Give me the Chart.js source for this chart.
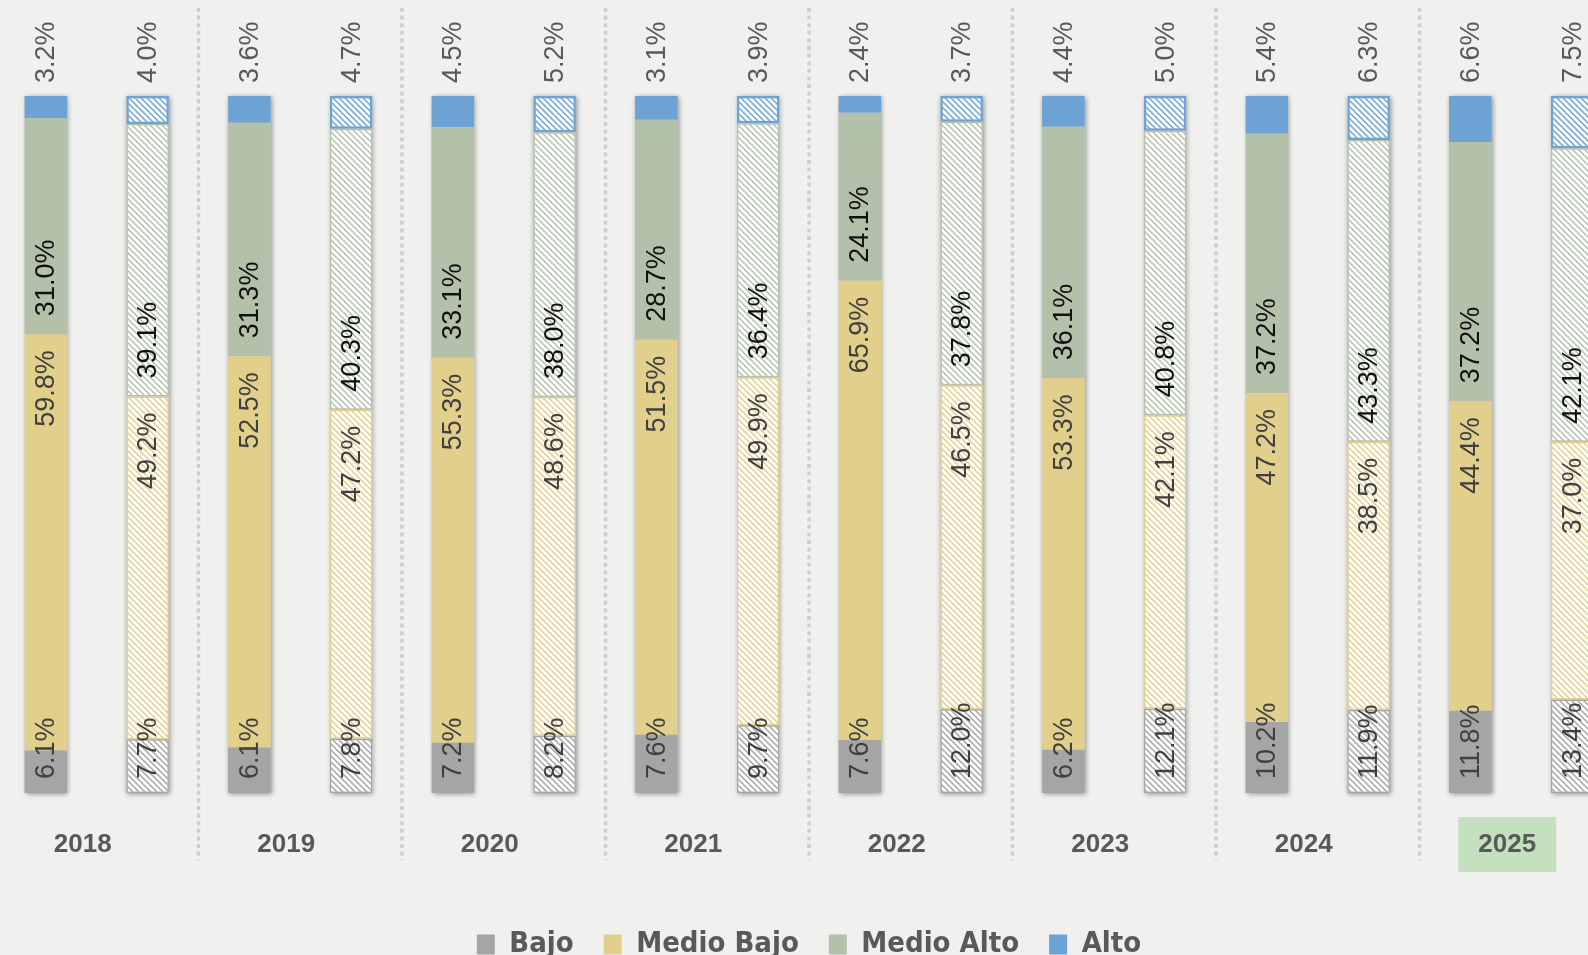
<!DOCTYPE html>
<html>
<head>
<meta charset="utf-8">
<script src="https://cdn.jsdelivr.net/npm/chart.js@4.4.1/dist/chart.umd.min.js"></script>
<style>
  html, body { margin: 0; padding: 0; background: #f0f0ef; overflow: hidden; width: 1588px; height: 955px; }
  #wrap { position: absolute; left: -5px; top: 0; }
</style>
</head>
<body>
<div id="wrap"><canvas id="myChart" width="1628" height="969"></canvas></div>
<script>
// years and series (raw values as labelled; Excel 100% stack normalises them)
const years = ['2018', '2019', '2020', '2021', '2022', '2023', '2024', '2025'];
const seriesNames = ['Bajo', 'Medio Bajo', 'Medio Alto', 'Alto'];

// first bar of each year (solid)
const bajoA      = [6.1, 6.1, 7.2, 7.6, 7.6, 6.2, 10.2, 11.8];
const medioBajoA = [59.8, 52.5, 55.3, 51.5, 65.9, 53.3, 47.2, 44.4];
const medioAltoA = [31.0, 31.3, 33.1, 28.7, 24.1, 36.1, 37.2, 37.2];
const altoA      = [3.2, 3.6, 4.5, 3.1, 2.4, 4.4, 5.4, 6.6];

// second bar of each year (hatched)
const bajoB      = [7.7, 7.8, 8.2, 9.7, 12.0, 12.1, 11.9, 13.4];
const medioBajoB = [49.2, 47.2, 48.6, 49.9, 46.5, 42.1, 38.5, 37.0];
const medioAltoB = [39.1, 40.3, 38.0, 36.4, 37.8, 40.8, 43.3, 42.1];
const altoB      = [4.0, 4.7, 5.2, 3.9, 3.7, 5.0, 6.3, 7.5];

const colors = ['#a5a5a5', '#e2cf8c', '#b3c0aa', '#6ca3d4'];
const labelColors = ['#404040', '#404040', '#111111', '#595959'];

// 100% stacked: share of each bar's total
function share(series, all) {
    return series.map((v, i) => {
        const total = all.reduce((s, arr) => s + arr[i], 0);
        return v / total * 100;
    });
}
const groupA = [bajoA, medioBajoA, medioAltoA, altoA];
const groupB = [bajoB, medioBajoB, medioAltoB, altoB];

function hatch(color) {
    const c = document.createElement('canvas');
    c.width = 6; c.height = 6;
    const g = c.getContext('2d');
    g.fillStyle = '#ffffff';
    g.fillRect(0, 0, 6, 6);
    g.strokeStyle = color;
    g.lineWidth = 1.5;
    g.beginPath();
    g.moveTo(-1, -1); g.lineTo(7, 7);
    g.moveTo(-1, 5); g.lineTo(1, 7);
    g.moveTo(5, -1); g.lineTo(7, 1);
    g.stroke();
    return g.createPattern(c, 'repeat');
}

const datasets = [];
groupA.forEach((arr, k) => {
    datasets.push({
        label: seriesNames[k],
        data: share(arr, groupA),
        raw: arr,
        stack: 'a',
        backgroundColor: colors[k],
        borderWidth: 0
    });
});
groupB.forEach((arr, k) => {
    datasets.push({
        label: seriesNames[k] + ' ',
        data: share(arr, groupB),
        raw: arr,
        stack: 'b',
        backgroundColor: hatch(colors[k]),
        borderColor: colors[k],
        borderWidth: k === 3 ? 2.5 : 1.5,
        borderSkipped: false
    });
});

// dotted separators between years + bar shadows
const backdrop = {
    id: 'backdrop',
    beforeDatasetsDraw(chart) {
        const ctx = chart.ctx;
        const xs = chart.scales.x, ys = chart.scales.y;
        ctx.save();
        ctx.strokeStyle = '#cdcdcd';
        ctx.lineWidth = 3.5;
        ctx.setLineDash([4, 3.6]);
        for (let i = 0; i < years.length - 1; i++) {
            const x = (xs.getPixelForTick(i) + xs.getPixelForTick(i + 1)) / 2;
            ctx.beginPath();
            ctx.moveTo(x, 8);
            ctx.lineTo(x, 860);
            ctx.stroke();
        }
        ctx.restore();

        ctx.save();
        ctx.shadowColor = 'rgba(0,0,0,0.4)';
        ctx.shadowBlur = 5;
        ctx.shadowOffsetX = 1;
        ctx.shadowOffsetY = 1;
        ctx.fillStyle = '#d0d0d0';
        const top = ys.getPixelForValue(100), bottom = ys.getPixelForValue(0);
        [0, 4].forEach(di => {
            chart.getDatasetMeta(di).data.forEach(el => {
                ctx.fillRect(el.x - el.width / 2, top, el.width, bottom - top);
            });
        });
        ctx.restore();
    }
};

// rotated value labels
const valueLabels = {
    id: 'valueLabels',
    afterDatasetsDraw(chart) {
        const ctx = chart.ctx;
        ctx.save();
        ctx.font = '27px "Liberation Sans", Arial, sans-serif';
        ctx.textBaseline = 'middle';
        chart.data.datasets.forEach((ds, di) => {
            const k = di % 4;
            chart.getDatasetMeta(di).data.forEach((el, i) => {
                const txt = ds.raw[i].toFixed(1) + '%';
                const top = Math.min(el.y, el.base), bottom = Math.max(el.y, el.base);
                let y, align;
                if (k === 0) { y = bottom - 14; align = 'left'; }
                else if (k === 1) { y = top + 16; align = 'right'; }
                else if (k === 2) { y = bottom - 18; align = 'left'; }
                else { y = top - 13; align = 'left'; }
                ctx.save();
                ctx.translate(el.x, y);
                ctx.rotate(-Math.PI / 2);
                ctx.textAlign = align;
                ctx.fillStyle = labelColors[k];
                ctx.fillText(txt, 0, 1);
                ctx.restore();
            });
        });
        ctx.restore();
    }
};

var ctx = document.getElementById('myChart').getContext('2d');
var myChart = new Chart(ctx, {
    type: 'bar',
    data: { labels: years, datasets: datasets },
    options: {
        responsive: false,
        animation: false,
        layout: { padding: { top: 96, left: 0, right: 0, bottom: 0 } },
        datasets: {
            bar: { categoryPercentage: 1.0, barPercentage: 0.418 }
        },
        scales: {
            x: {
                stacked: true,
                grid: { display: false, drawTicks: false },
                border: { display: false },
                afterFit(scale) { scale.height = 107; },
                ticks: {
                    color: '#595959',
                    font: { family: '"Liberation Sans", Arial, sans-serif', size: 26, weight: 'bold' },
                    padding: 36,
                    labelOffset: -14,
                    maxRotation: 0,
                    autoSkip: false,
                    showLabelBackdrop: c => c.index === 7,
                    backdropColor: '#c5e0bf',
                    backdropPadding: { top: 12, bottom: 12, left: 20, right: 20 }
                }
            },
            y: {
                stacked: true,
                display: false,
                min: 0,
                max: 100
            }
        },
        plugins: {
            tooltip: { enabled: false },
            legend: {
                position: 'bottom',
                labels: {
                    filter: item => item.datasetIndex < 4,
                    boxWidth: 18,
                    boxHeight: 20,
                    padding: 30,
                    color: '#595959',
                    font: { family: '"DejaVu Sans Condensed", "Liberation Sans Narrow", sans-serif', size: 29, weight: 'bold' }
                }
            }
        }
    },
    plugins: [backdrop, valueLabels]
});
</script>
</body>
</html>
